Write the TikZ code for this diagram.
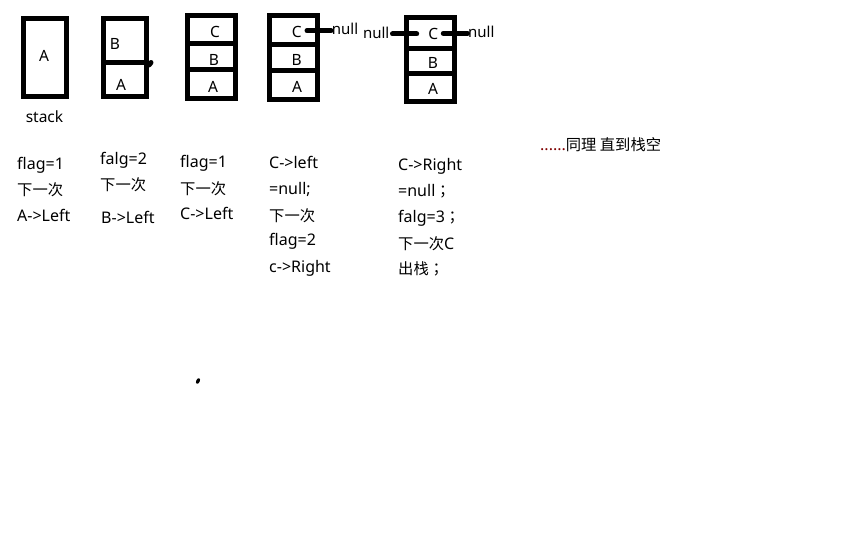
\documentclass[tikz,border=0pt]{standalone}
\usepackage{fontspec}
\setmainfont{Noto Sans}
\newfontfamily\cjkf{Noto Sans CJK SC}
\newfontfamily\cjkpf{Noto Sans CJK TC}
\newcommand{\cjk}{\cjkf\fontsize{15.3}{18}\selectfont}
\newcommand{\cjkp}{\cjkpf\fontsize{15.3}{18}\selectfont}
\begin{document}
\begin{tikzpicture}[x=1pt,y=-1pt,
  cell/.style={draw, line width=5pt, inner sep=0pt, rectangle},
  bar/.style={line width=5pt, line cap=round},
  txt/.style={inner sep=0pt, anchor=base west, font=\fontsize{16}{18}\selectfont},
  ctxt/.style={inner sep=0pt, anchor=base, font=\fontsize{15.5}{18}\selectfont}]
\useasboundingbox[fill=white] (0,0) rectangle (864,540);
% stack 1
\node[cell, minimum width=43pt, minimum height=78pt] (s1a) at (45,57.5) {};
\node[ctxt] (l1a) at (44,62) {A};
\node[ctxt] (lstack) at (44.5,123) {stack};
% stack 2
\node[cell, minimum width=43pt, minimum height=44pt] (s2b) at (125,40.5) {};
\node[cell, minimum width=43pt, minimum height=34pt] (s2a) at (125,79.5) {};
\coordinate (s2end) at (151,62.5);
\draw[bar] (s2b.south east) -- (s2end);
\node[ctxt] (l2b) at (115,50) {B};
\node[ctxt] (l2a) at (121,90.7) {A};
% stack 3
\node[cell, minimum width=48pt, minimum height=28pt] (s3c) at (211.5,29.5) {};
\node[cell, minimum width=48pt, minimum height=26pt] (s3b) at (211.5,56.5) {};
\node[cell, minimum width=48pt, minimum height=29pt] (s3a) at (211.5,84) {};
\node[ctxt] (l3c) at (215,37.3) {C};
\node[ctxt] (l3b) at (214,66) {B};
\node[ctxt] (l3a) at (213,92.7) {A};
% stack 4
\node[cell, minimum width=48pt, minimum height=29pt] (s4c) at (293.5,30) {};
\node[cell, minimum width=48pt, minimum height=26pt] (s4b) at (293.5,57.5) {};
\node[cell, minimum width=48pt, minimum height=29pt] (s4a) at (293.5,85) {};
\node[ctxt] (l4c) at (296.7,37.3) {C};
\node[ctxt] (l4b) at (296.7,66) {B};
\node[ctxt] (l4a) at (297,92.7) {A};
\node[txt, font=\fontsize{15}{18}\selectfont] (n4) at (331.7,35) {null};
\coordinate (p4) at (307,30.7);
\coordinate (q4) at (331,30.7);
\draw[bar] (p4) -- (q4);
% stack 5
\node[cell, minimum width=48pt, minimum height=31pt] (s5c) at (430.5,33) {};
\node[cell, minimum width=48pt, minimum height=25.5pt] (s5b) at (430.5,61.25) {};
\node[cell, minimum width=48pt, minimum height=27.5pt] (s5a) at (430.5,87.75) {};
\node[ctxt] (l5c) at (433.3,40) {C};
\node[ctxt] (l5b) at (433,69) {B};
\node[ctxt] (l5a) at (433,95) {A};
\node[txt, anchor=base east, font=\fontsize{15}{18}\selectfont] (n5l) at (389.5,38.3) {null};
\node[txt, font=\fontsize{15}{18}\selectfont] (n5r) at (468,37.7) {null};
\coordinate (a5) at (392.5,34);
\coordinate (b5) at (416.7,34);
\coordinate (c5) at (443.3,33.3);
\coordinate (d5) at (467.5,33.3);
\draw[bar] (a5) -- (b5);
\draw[bar] (c5) -- (d5);
% column 1
\node[txt] (t11) at (17,169.3) {flag=1};
\node[txt] (t12) at (17,196) {\cjk 下一次};
\node[txt] (t13) at (17,221.7) {A->Left};
% column 2
\node[txt] (t21) at (100,164.3) {falg=2};
\node[txt] (t22) at (100,190.7) {\cjk 下一次};
\node[txt] (t23) at (101,223.3) {B->Left};
% column 3
\node[txt] (t31) at (180,167.3) {flag=1};
\node[txt] (t32) at (180,194) {\cjk 下一次};
\node[txt] (t33) at (180,219) {C->Left};
% column 4
\node[txt] (t41) at (269,168.3) {C->left};
\node[txt] (t42) at (269,194.3) {=null;};
\node[txt] (t43) at (269,221) {\cjk 下一次};
\node[txt] (t44) at (269,245.7) {flag=2};
\node[txt] (t45) at (269,272.3) {c->Right};
% column 5
\node[txt] (t51) at (398,170.7) {C->Right};
\node[txt] (t52) at (398,196.7) {=null{\cjkp ；}};
\node[txt] (t53) at (398,222.7) {falg=3{\cjkp ；}};
\node[txt] (t54) at (398,249) {{\cjk 下一次}C};
\node[txt] (t55) at (398,274) {{\cjk 出栈}{\cjkp ；}};
% header
\definecolor{dotred}{HTML}{800000}
\node[txt] (hdr) at (540,150.5) {\textcolor{dotred}{......}{\cjk 同理 直到栈空}};
% stray dot
\fill[rotate around={-25:(198,381)}] (198,381) ellipse (1.8 and 3);
\end{tikzpicture}
\end{document}
